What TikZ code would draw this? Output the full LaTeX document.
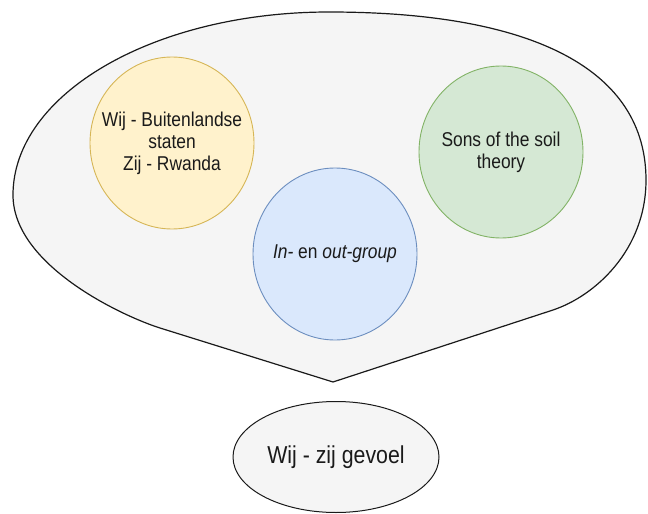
\documentclass[tikz,border=0pt]{standalone}
\usepackage{fontspec}
\setmainfont[FakeStretch=0.87]{Liberation Sans}
\usetikzlibrary{shapes.geometric}
\definecolor{balloonfill}{HTML}{F5F5F5}
\definecolor{edgedark}{HTML}{1A1A1A}
\definecolor{yellowfill}{HTML}{FFF2CC}
\definecolor{yellowline}{HTML}{D6B656}
\definecolor{bluefill}{HTML}{DAE8FC}
\definecolor{blueline}{HTML}{6C8EBF}
\definecolor{greenfill}{HTML}{D5E8D4}
\definecolor{greenline}{HTML}{82B366}
\tikzset{
  bubbletext/.style={inner sep=0pt, align=center, text=edgedark,
    font=\fontsize{20}{22}\selectfont},
  bubbleline/.style={line width=0.9pt},
  balloon/.style={fill=balloonfill, draw=edgedark, line width=1.2pt, line join=round},
  result/.style={ellipse, inner sep=0pt, draw=edgedark, fill=balloonfill, line width=1pt,
    text=edgedark, minimum width=206pt, minimum height=111pt,
    font=\fontsize{24.5}{28}\selectfont}
}
\begin{document}
\begin{tikzpicture}[x=1pt,y=-1pt]
\useasboundingbox (0,0) rectangle (648,514);
% large balloon with a point at the bottom
\coordinate (bl) at (13,195);
\coordinate (bt) at (329,12);
\coordinate (br) at (646,180);
\coordinate (brl) at (553,310);
\coordinate (tip) at (333,382);
\coordinate (bll) at (160,328);
\draw[balloon] (bl) .. controls (13,94) and (154,12) .. (bt)
  .. controls (536,12) and (646,71) .. (br)
  .. controls (646,250) and (595,296) .. (brl)
  -- (tip) -- (bll)
  .. controls (122,316) and (13,265) .. (bl) -- cycle;
% inner circles
\coordinate (cw) at (172,143);
\coordinate (cs) at (501,152);
\coordinate (ci) at (335,254);
\draw[bubbleline, fill=yellowfill, draw=yellowline] (cw) ellipse [x radius=82, y radius=86];
\draw[bubbleline, fill=greenfill, draw=greenline] (cs) ellipse [x radius=82, y radius=86];
\draw[bubbleline, fill=bluefill, draw=blueline] (ci) ellipse [x radius=82, y radius=86];
\node[bubbletext] (wij) at (cw) {Wij - Buitenlandse\\staten\\Zij - Rwanda};
\node[bubbletext] (sons) at (cs) {Sons of the soil\\theory};
\node[bubbletext] (inout) at (ci) {{\itshape In-} en {\itshape out-group}};
% result ellipse
\node[result] (gevoel) at (336,457) {Wij - zij gevoel};
\end{tikzpicture}
\end{document}
